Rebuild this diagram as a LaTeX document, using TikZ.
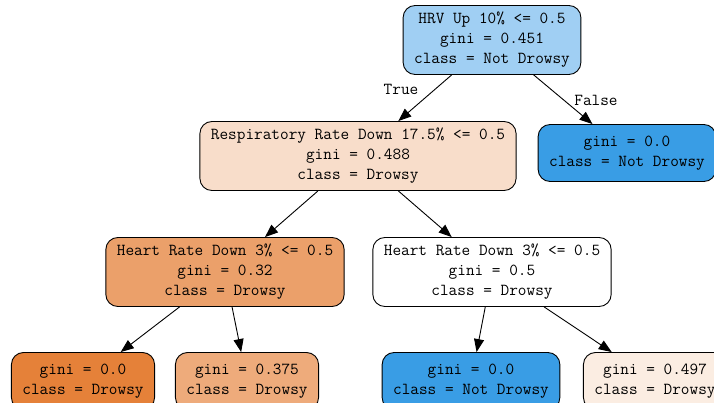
\documentclass[tikz,border=0pt]{standalone}
\usepackage{fontspec}
\usetikzlibrary{arrows.meta}

\definecolor{rootblue}{RGB}{160,207,243}
\definecolor{leafblue}{RGB}{57,157,229}
\definecolor{respfill}{RGB}{248,221,202}
\definecolor{heartfill}{RGB}{235,160,106}
\definecolor{leaforange}{RGB}{229,129,57}
\definecolor{midorange}{RGB}{238,171,123}
\definecolor{paleorange}{RGB}{251,237,226}

\begin{document}
\begin{tikzpicture}[x=1pt, y=-1pt, line cap=round,
    treenode/.style={draw, line width=0.9pt, rounded corners=12pt, align=center,
      inner xsep=11pt, inner ysep=0pt,
      font=\ttfamily\fontsize{16.8}{20}\selectfont},
    splitnode/.style={treenode, minimum height=69pt},
    leafnode/.style={treenode, minimum height=57pt},
    edge/.style={draw, line width=0.9pt, -{Triangle[length=13pt, width=10pt]}},
    edgelabel/.style={font=\ttfamily\fontsize{16.8}{20}\selectfont}]
  \useasboundingbox (0,0) rectangle (714,402);

  % splitsingen
  \node[splitnode, fill=rootblue] (root) at (492,40)
    {HRV Up 10\% <= 0.5\\gini = 0.451\\class = Not Drowsy};
  \node[splitnode, fill=respfill] (resp) at (358,156)
    {Respiratory Rate Down 17.5\% <= 0.5\\gini = 0.488\\class = Drowsy};
  \node[splitnode, fill=heartfill] (heartL) at (225,272)
    {Heart Rate Down 3\% <= 0.5\\gini = 0.32\\class = Drowsy};
  \node[splitnode, fill=white] (heartR) at (492,272)
    {Heart Rate Down 3\% <= 0.5\\gini = 0.5\\class = Drowsy};

  % bladeren
  \node[leafnode, fill=leafblue] (leafR) at (627,153)
    {gini = 0.0\\class = Not Drowsy};
  \node[leafnode, fill=leaforange] (leafA) at (83,381)
    {gini = 0.0\\class = Drowsy};
  \node[leafnode, fill=midorange] (leafB) at (247,381)
    {gini = 0.375\\class = Drowsy};
  \node[leafnode, fill=leafblue] (leafC) at (471,381)
    {gini = 0.0\\class = Not Drowsy};
  \node[leafnode, fill=paleorange] (leafD) at (655,381)
    {gini = 0.497\\class = Drowsy};

  % takken
  \draw[edge] (root) -- (resp);
  \draw[edge] (root) -- (leafR);
  \draw[edge] (resp) -- (heartL);
  \draw[edge] (resp) -- (heartR);
  \draw[edge] (heartL) -- (leafA);
  \draw[edge] (heartL) -- (leafB);
  \draw[edge] (heartR) -- (leafC);
  \draw[edge] (heartR) -- (leafD);

  % labels
  \node[edgelabel] (truelbl) at (401,89) {True};
  \node[edgelabel] (falselbl) at (596,100) {False};
\end{tikzpicture}
\end{document}
